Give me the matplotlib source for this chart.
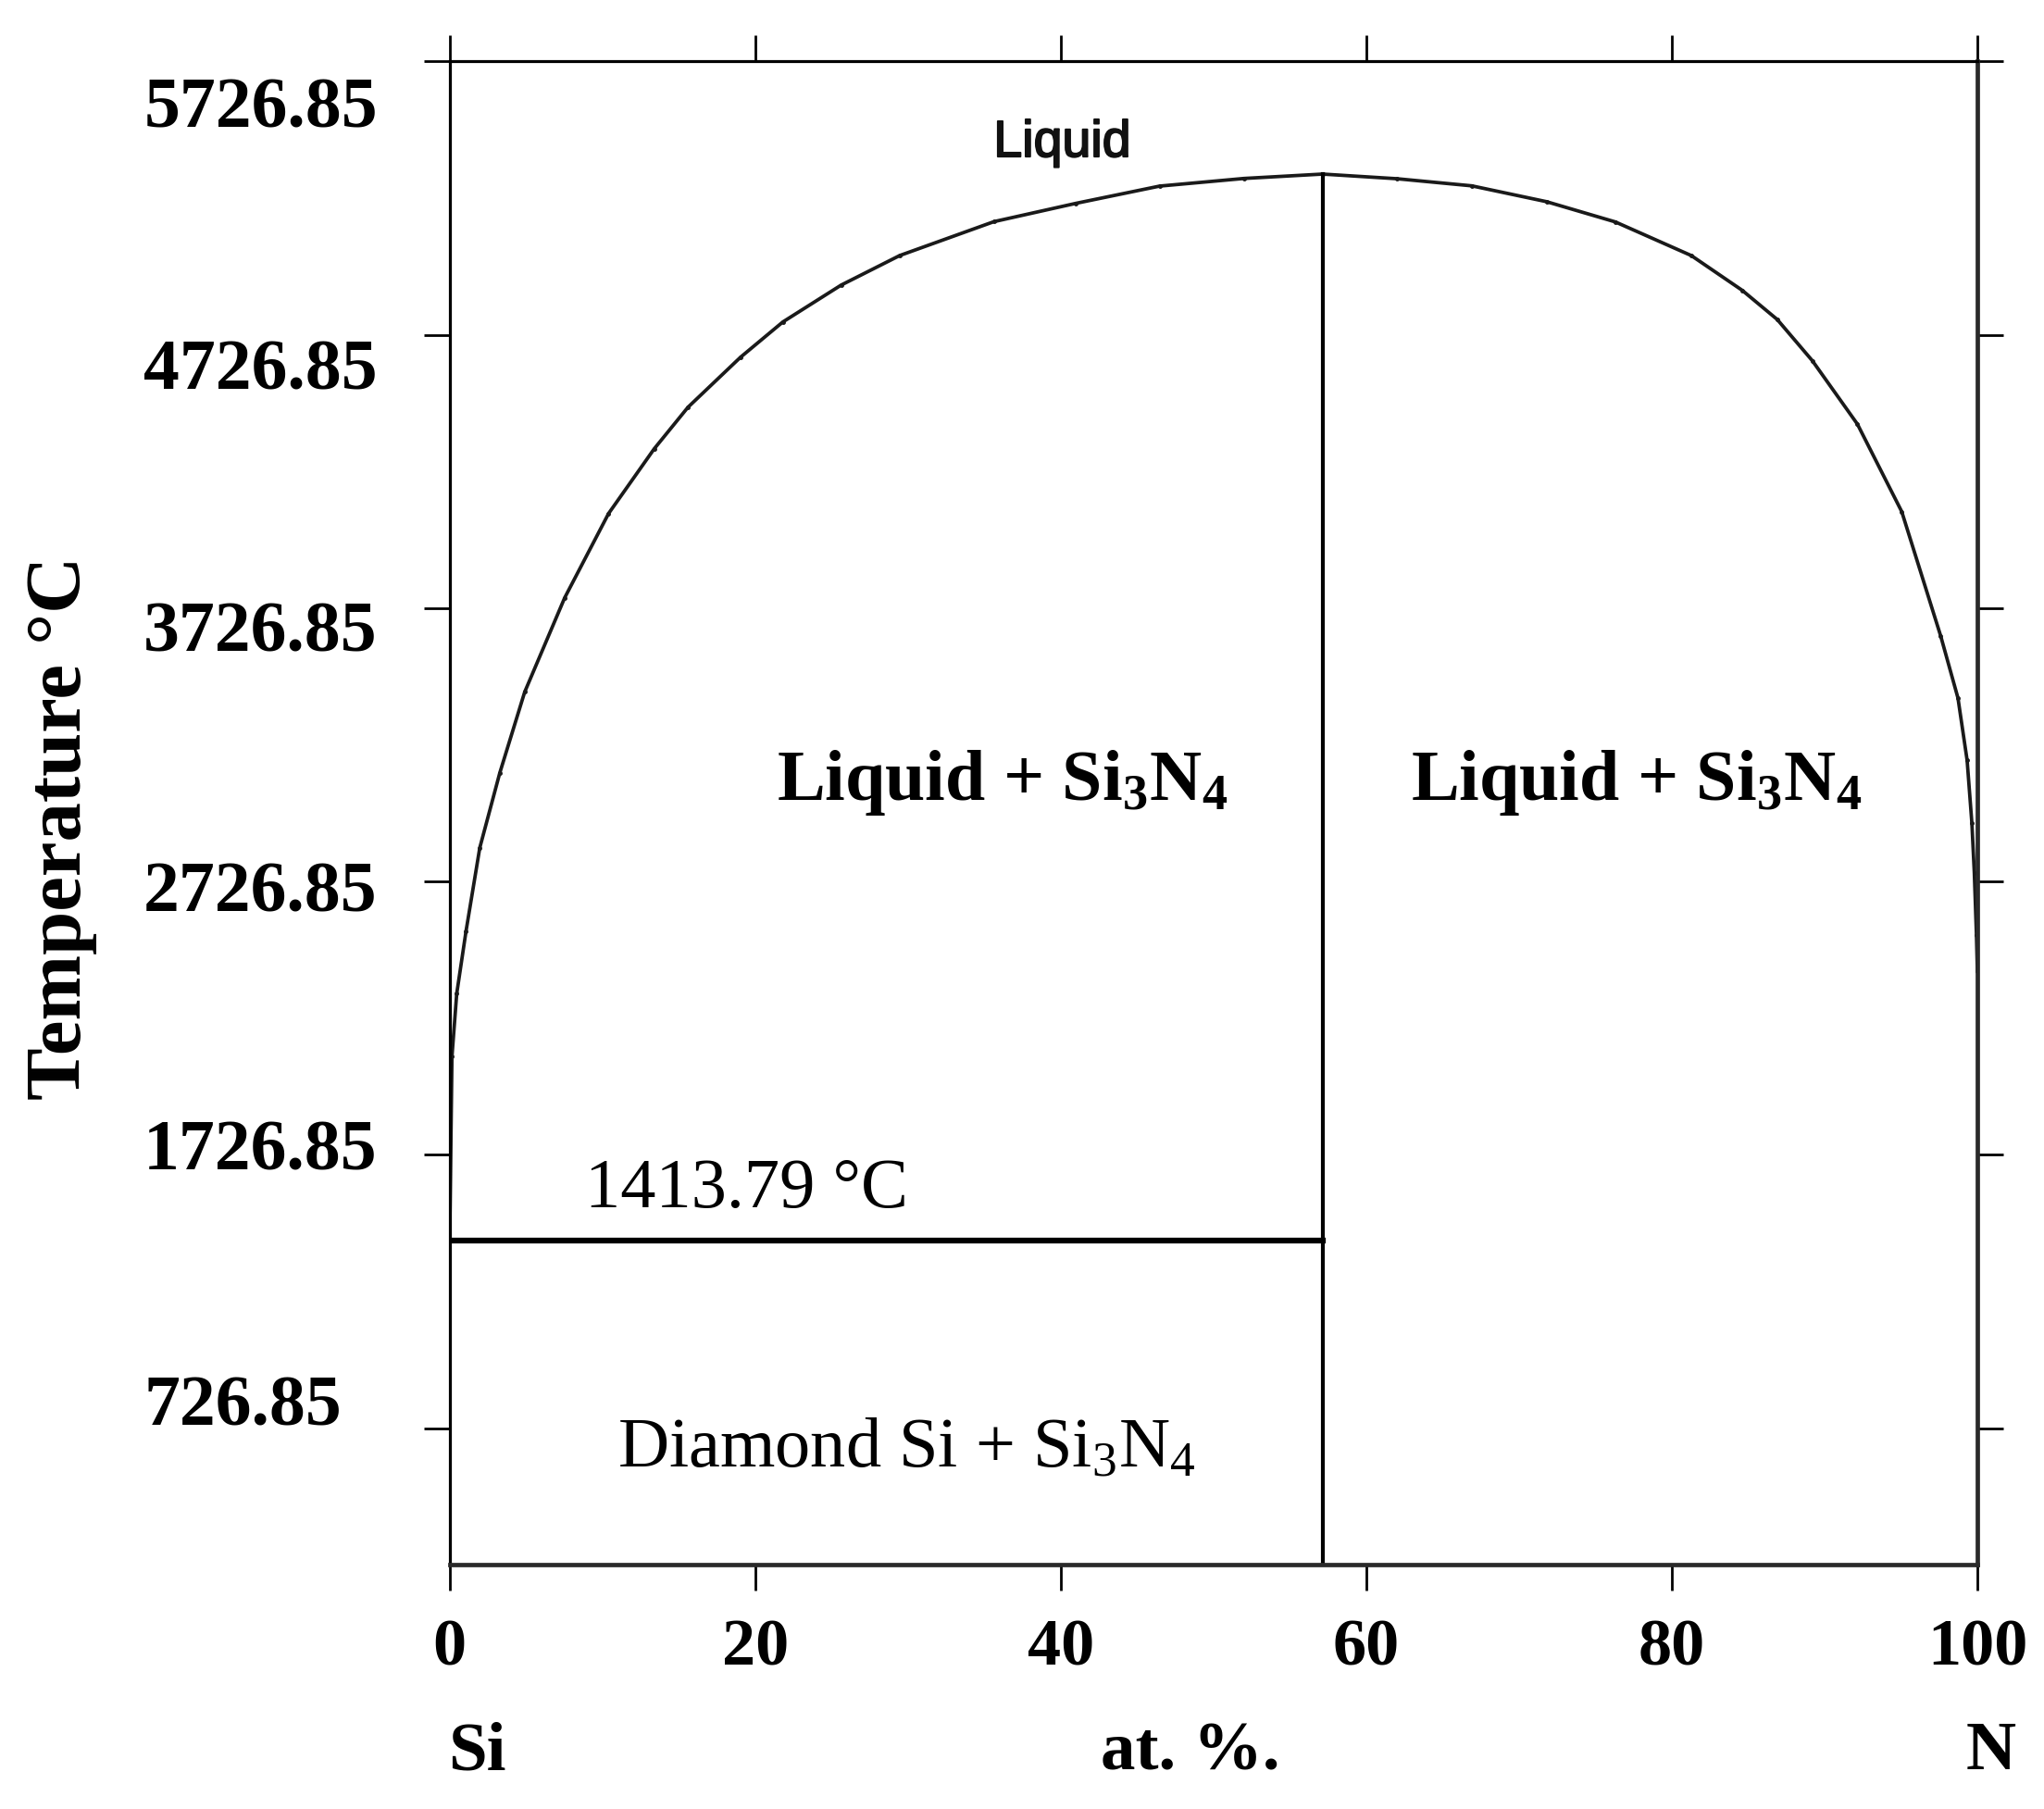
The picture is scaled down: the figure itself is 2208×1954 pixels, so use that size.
import matplotlib
matplotlib.use('Agg')
import matplotlib.pyplot as plt
import matplotlib.patheffects as pe
from matplotlib.transforms import blended_transform_factory, ScaledTranslation

plt.rcParams['mathtext.fontset'] = 'custom'
plt.rcParams['mathtext.rm'] = 'Liberation Serif'
plt.rcParams['mathtext.it'] = 'Liberation Serif:italic'
plt.rcParams['mathtext.bf'] = 'Liberation Serif:bold'

# ---- data ----
left_x = [0.0, 0.15, 0.46, 1.07, 1.97, 3.28, 4.91, 7.53, 10.4, 13.39, 15.6,
          19.04, 21.81, 25.63, 29.46, 35.63, 41.0, 46.47, 52.0, 57.14]
left_T = [1413.79, 2087, 2316, 2545, 2850, 3124, 3420, 3765, 4073, 4310, 4462,
          4645, 4774, 4909, 5017, 5141, 5208, 5271, 5299, 5315]
right_x = [57.14, 62.0, 66.9, 71.8, 76.3, 81.27, 84.6, 86.9, 89.2, 92.15,
           95.05, 97.6, 98.73, 99.33, 99.64, 99.8, 99.94, 100.0]
right_T = [5315, 5298, 5272, 5214, 5140, 5017, 4890, 4783, 4632, 4400,
           4080, 3625, 3398, 3170, 2941, 2759, 2531, 2400]
si3n4_x = 57.14
eutectic_T = 1413.79
x_ticks = [0, 20, 40, 60, 80, 100]
y_ticks = [726.85, 1726.85, 2726.85, 3726.85, 4726.85, 5726.85]
y_ticklabels = ['726.85', '1726.85', '2726.85', '3726.85', '4726.85', '5726.85']
y_limits = (226.85, 5726.85)

serif = 'Liberation Serif'

fig = plt.figure(figsize=(22.08, 19.54), dpi=100)
ax = fig.add_axes([0.220, 0.135, 0.7474, 0.831])

lc = '#1a1a1a'
ax.plot(left_x, left_T, color=lc, lw=2.7, marker='.', markersize=5)
ax.plot(right_x, right_T, color=lc, lw=2.7, marker='.', markersize=5)
ax.plot([si3n4_x, si3n4_x], [y_limits[0], left_T[-1]], color='black', lw=3.0)
ax.plot([0, si3n4_x], [eutectic_T, eutectic_T], color='black', lw=4.5)

ax.set_xlim(0, 100)
ax.set_ylim(*y_limits)

for side in ['left', 'top']:
    ax.spines[side].set_linewidth(2.3)
for side in ['right', 'bottom']:
    ax.spines[side].set_linewidth(3.4)
    ax.spines[side].set_color('#2a2a2a')

ax.set_xticks(x_ticks)
ax.set_xticklabels([str(v) for v in x_ticks])
ax.set_yticks(y_ticks)
ax.set_yticklabels(y_ticklabels)

ax.tick_params(axis='both', which='major', direction='out', length=20, width=2,
               top=True, right=True, labeltop=False, labelright=False)
ax.tick_params(axis='x', pad=22, labelsize=52)
ax.tick_params(axis='y', pad=218, labelsize=56)
for lab in ax.get_xticklabels() + ax.get_yticklabels():
    lab.set_fontfamily(serif)
    lab.set_fontweight('bold')
# the y labels sit slightly off their ticks in the original figure
label_shift_pt = [-21.5, -8, 4, 14, 23, 31.5]
for lab, dy in zip(ax.get_yticklabels(), label_shift_pt):
    lab.set_ha('left')
    lab.set_transform(lab.get_transform() + ScaledTranslation(0, -dy / 72, fig.dpi_scale_trans))

ax.set_ylabel('Temperature °C', fontsize=61, fontweight='bold', family=serif)
ax.yaxis.set_label_coords(-0.231, 0.49)

# composition labels under the axis
tr = blended_transform_factory(ax.transData, ax.transAxes)
for xpos, txt in [(1.8, 'Si'), (48.5, 'at. %.'), (100.9, 'N')]:
    ax.text(xpos, -0.125, txt, transform=tr, ha='center', va='center',
            fontsize=54, fontweight='bold', family=serif)

# phase labels
ax.text(40.1, 5379, 'Liquid', ha='center', va='baseline', fontsize=40,
        family='Liberation Sans', color='#111111',
        path_effects=[pe.withStroke(linewidth=1.4, foreground='#111111')])
ax.text(36.2, 3027, r'Liquid + Si$_\mathbf{3}$N$_\mathbf{4}$', ha='center', va='baseline',
        fontsize=56, fontweight='bold', family=serif)
ax.text(77.7, 3027, r'Liquid + Si$_\mathbf{3}$N$_\mathbf{4}$', ha='center', va='baseline',
        fontsize=56, fontweight='bold', family=serif)
ax.text(19.45, 1536, '1413.79 °C', ha='center', va='baseline',
        fontsize=55, family=serif)
ax.text(29.9, 588, r'Diamond Si + Si$_\mathrm{3}$N$_\mathrm{4}$', ha='center', va='baseline',
        fontsize=55, family=serif)

fig.savefig('out.png', dpi=100, facecolor='white')
